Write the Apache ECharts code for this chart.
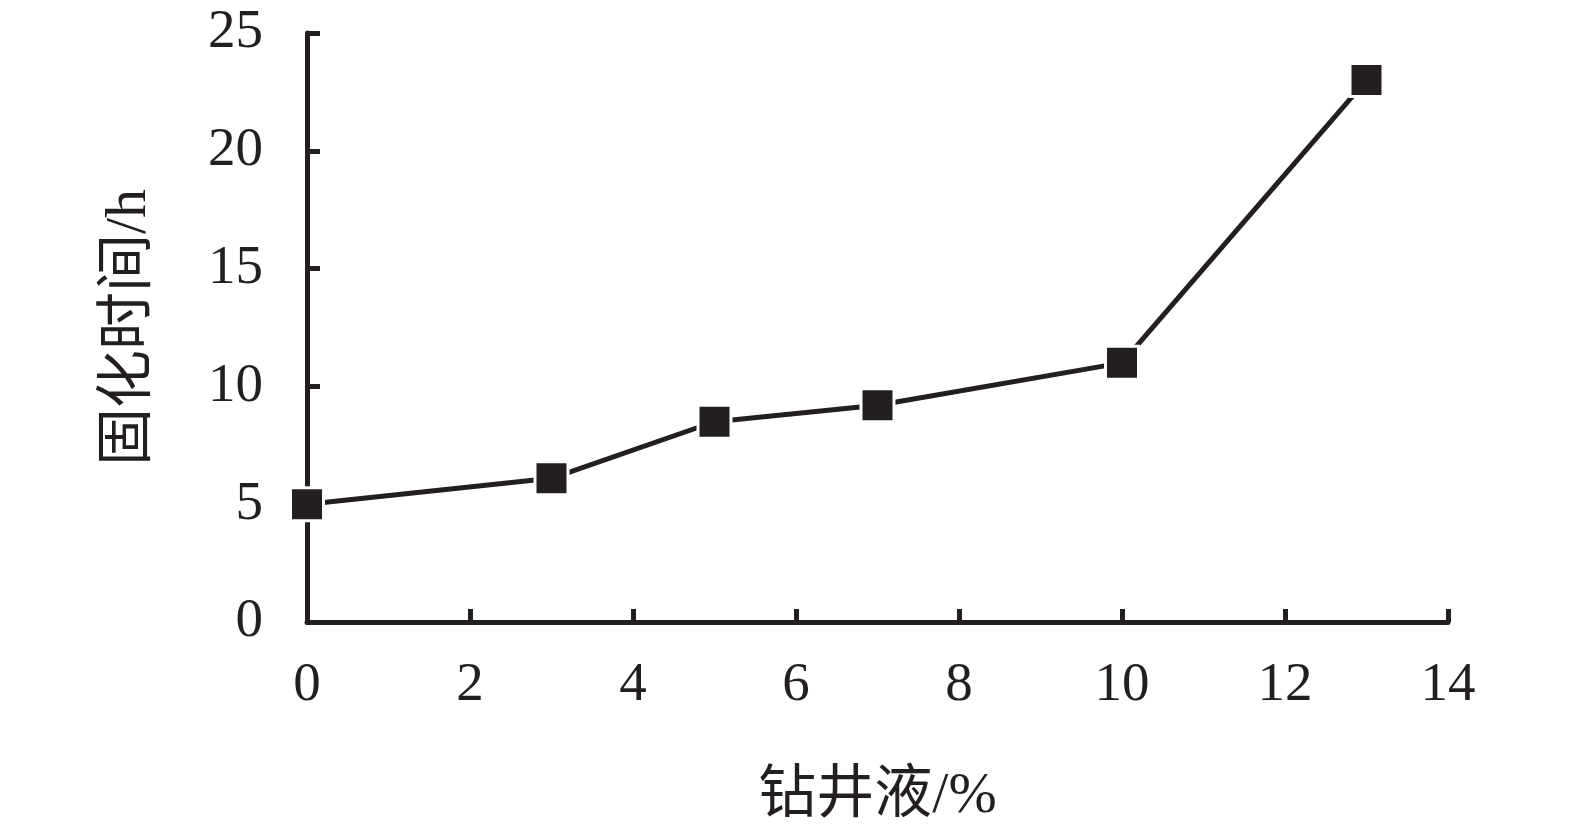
<!DOCTYPE html>
<html>
<head>
<meta charset="utf-8">
<script src="https://cdn.jsdelivr.net/npm/echarts@6/dist/echarts.min.js"></script>
<style>
html,body{margin:0;padding:0;background:#fff;}
#c{width:1575px;height:831px;}
</style>
</head>
<body>
<div id="c"></div>
<script>
const xValues = [0, 3, 5, 7, 10, 13];
const yValues = [5.0, 6.1, 8.5, 9.2, 11.0, 23.0];
const xAxisName = '钻井液/%';
const yAxisName = '固化时间/h';

const ink = '#231f20';
const fontFam = '"Liberation Serif", "Noto Sans CJK SC", serif';
const chart = echarts.init(document.getElementById('c'));
chart.setOption({
  animation: false,
  backgroundColor: '#fff',
  grid: {left: 307, right: 127, top: 33, bottom: 208, containLabel: false},
  xAxis: {
    type: 'value', min: 0, max: 14, interval: 2,
    name: xAxisName, nameLocation: 'middle', nameGap: 146,
    nameTextStyle: {fontFamily: fontFam, fontSize: 58, color: ink},
    axisLine: {show: true, lineStyle: {color: ink, width: 5}},
    axisTick: {show: true, inside: true, length: 13, lineStyle: {color: ink, width: 5}},
    axisLabel: {fontFamily: fontFam, fontSize: 55, color: ink, margin: 36},
    splitLine: {show: false}
  },
  yAxis: {
    type: 'value', min: 0, max: 25, interval: 5,
    name: yAxisName, nameLocation: 'middle', nameGap: 148, nameRotate: 90,
    nameTextStyle: {fontFamily: fontFam, fontSize: 58, color: ink},
    axisLine: {show: true, lineStyle: {color: ink, width: 5}},
    axisTick: {show: true, inside: true, length: 13, lineStyle: {color: ink, width: 5}},
    axisLabel: {fontFamily: fontFam, fontSize: 55, color: ink, margin: 44},
    splitLine: {show: false}
  },
  series: [{
    type: 'line',
    data: xValues.map((x, i) => [x, yValues[i]]),
    symbol: 'rect', symbolSize: 33,
    itemStyle: {color: ink, borderColor: '#fff', borderWidth: 3},
    lineStyle: {color: ink, width: 5},
    z: 3
  }]
});
</script>
</body>
</html>
